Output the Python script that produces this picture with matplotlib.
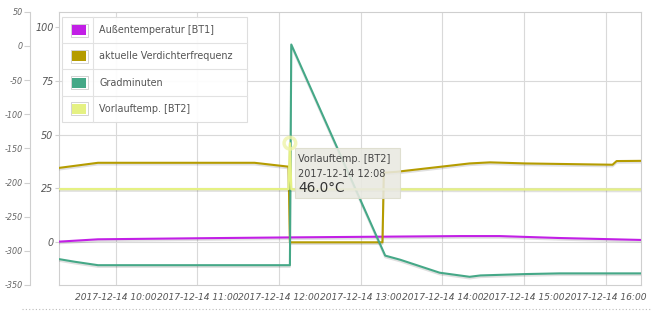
import pandas as pd
import matplotlib.pyplot as plt
import matplotlib.dates as mdates
import matplotlib.patheffects as pe
from matplotlib.patches import Rectangle
from matplotlib.lines import Line2D

# Series (time strings HH:MM on 2017-12-14)
aussen_t = ["09:18", "09:47", "11:02", "12:11", "14:13", "14:42", "15:26", "16:00", "16:26"]
aussen_v = [0.3, 1.4, 1.9, 2.3, 2.9, 2.9, 2.0, 1.5, 1.1]

verdichter_t = ["09:18", "09:47", "11:42", "12:07", "12:08", "13:16", "13:17", "13:26",
                "14:20", "14:35", "15:01", "16:05", "16:08", "16:26"]
verdichter_v = [34.5, 36.9, 36.9, 35.1, 0.0, 0.0, 32.3, 32.7,
                36.6, 37.1, 36.6, 36.0, 37.7, 37.8]

grad_t = ["09:18", "09:30", "09:47", "12:08", "12:09", "13:18", "13:29", "13:58",
          "14:20", "14:28", "15:01", "15:26", "16:26"]
grad_v = [-312, -316, -321, -321, 2, -307, -313, -332, -338, -336, -334, -333, -333]

vorlauf_t = ["09:18", "12:07", "12:08", "12:09", "16:26"]
vorlauf_v = [24.7, 24.7, 46.0, 24.6, 24.5]

names = ["Außentemperatur [BT1]", "aktuelle Verdichterfrequenz", "Gradminuten", "Vorlauftemp. [BT2]"]
colors = ["#c21fe6", "#b59c00", "#45a887", "#e5f183"]

inner_ticks = [0, 25, 50, 75, 100]
outer_ticks = [-350, -300, -250, -200, -150, -100, -50, 0, 50]

tooltip_lines = ["Vorlauftemp. [BT2]", "2017-12-14 12:08", "46.0°C"]


def ts(lst):
    return pd.to_datetime(["2017-12-14 " + s for s in lst])


W, H = 656, 311


def fx(x):
    return x / W


def fy(y):
    return 1 - y / H


plt.rcParams["font.family"] = "DejaVu Sans"
plt.rcParams["axes.unicode_minus"] = False

fig = plt.figure(figsize=(W / 100, H / 100), dpi=100)
fig.patch.set_facecolor("white")

ax = fig.add_axes([fx(59), fy(285), (641 - 59) / W, (285 - 11.7) / H])
ax2 = ax.twinx()

ax.set_xlim(pd.Timestamp("2017-12-14 09:18:22"), pd.Timestamp("2017-12-14 16:25:55"))
ax.set_ylim(-19.8, 107)
ax2.set_ylim(-350, 50)

# grid + frame
ax.grid(True, color="#d9d9d9", linewidth=0.8)
ax.set_axisbelow(True)
for s in ax.spines.values():
    s.set_color("#cfcfcf")
    s.set_linewidth(0.8)

ax.xaxis.set_major_locator(mdates.HourLocator(byhour=range(10, 17)))
ax.xaxis.set_major_formatter(mdates.DateFormatter("%Y-%m-%d %H:%M"))
ax.tick_params(axis="x", length=0, pad=6, labelsize=6.6, labelcolor="#555555")
ax.set_yticks(inner_ticks)
ax.tick_params(axis="y", length=3, pad=1, labelsize=6.9, labelcolor="#555555", color="#cfcfcf")
for lbl in ax.get_xticklabels() + ax.get_yticklabels():
    lbl.set_fontstyle("italic")
# no grid line drawn at the 100 tick
ax.yaxis.get_gridlines()[-1].set_visible(False)

# outer axis on the far left
ax2.yaxis.tick_left()
ax2.spines["left"].set_position(("outward", 29 * 0.72))
ax2.spines["left"].set_color("#cfcfcf")
ax2.spines["left"].set_linewidth(0.8)
for side in ["right", "top", "bottom"]:
    ax2.spines[side].set_visible(False)
ax2.set_yticks(outer_ticks)
ax2.tick_params(axis="y", length=4, pad=1, labelsize=5.8, labelcolor="#666666", color="#cfcfcf")
for lbl in ax2.get_yticklabels():
    lbl.set_fontstyle("italic")

shadow = [pe.SimpleLineShadow(offset=(0, -1.2), alpha=0.12, shadow_color="k"), pe.Normal()]

ax.plot(ts(aussen_t), aussen_v, color=colors[0], lw=1.5, path_effects=shadow, zorder=3)
ax.plot(ts(verdichter_t), verdichter_v, color=colors[1], lw=1.5, path_effects=shadow, zorder=4)
ax.plot(ts(grad_t), grad_v, color=colors[2], lw=1.5, path_effects=shadow, zorder=5,
        transform=ax2.transData)
ax.plot(ts(vorlauf_t), vorlauf_v, color=colors[3], lw=1.6, path_effects=shadow, zorder=6)
ax.set_ylim(-19.8, 107)

# highlight ring on hovered point
ax.scatter(ts(["12:08"]), [46.0], s=70, facecolor="none", edgecolor="#eef3a8",
           linewidth=2.5, alpha=0.8, zorder=7)

# legend table
lx0, lx1, ly0, row_h = 62, 247, 17, 26.2
fig.add_artist(Rectangle((fx(lx0), fy(ly0 + 4 * row_h)), (lx1 - lx0) / W, 4 * row_h / H,
                         transform=fig.transFigure, facecolor="white", edgecolor="#dddddd",
                         linewidth=0.8, alpha=0.95))
fig.add_artist(Line2D([fx(93), fx(93)], [fy(ly0), fy(ly0 + 4 * row_h)],
                      transform=fig.transFigure, color="#e2e2e2", lw=0.8))
for i, (name, c) in enumerate(zip(names, colors)):
    yc = ly0 + (i + 0.5) * row_h
    if i > 0:
        fig.add_artist(Line2D([fx(lx0), fx(lx1)], [fy(ly0 + i * row_h)] * 2,
                              transform=fig.transFigure, color="#e2e2e2", lw=0.8))
    fig.add_artist(Rectangle((fx(70.5), fy(yc + 6.5)), 17 / W, 13 / H, transform=fig.transFigure,
                             facecolor="white", edgecolor="#cccccc", linewidth=0.6))
    fig.add_artist(Rectangle((fx(72), fy(yc + 5)), 14 / W, 10 / H, transform=fig.transFigure,
                             facecolor=c, edgecolor="none"))
    fig.text(fx(99), fy(yc), name, fontsize=6.9, color="#545454", va="center", ha="left")

# tooltip
fig.add_artist(Rectangle((fx(295), fy(198)), 105 / W, 50 / H, transform=fig.transFigure,
                         facecolor="#e9e9e1", edgecolor="#dcdccc", linewidth=0.8, alpha=0.88))
fig.text(fx(298), fy(159), tooltip_lines[0], fontsize=7, color="#444444", va="center")
fig.text(fx(298), fy(174), tooltip_lines[1], fontsize=7, color="#444444", va="center")
fig.text(fx(298), fy(188.5), tooltip_lines[2], fontsize=9.8, color="#333333", va="center")

# dotted bottom border
fig.add_artist(Line2D([fx(22), fx(652)], [fy(309), fy(309)], transform=fig.transFigure,
                      color="#bbbbbb", lw=0.8, linestyle=(0, (1, 2))))

plt.savefig("out.png", dpi=100, facecolor="white")
